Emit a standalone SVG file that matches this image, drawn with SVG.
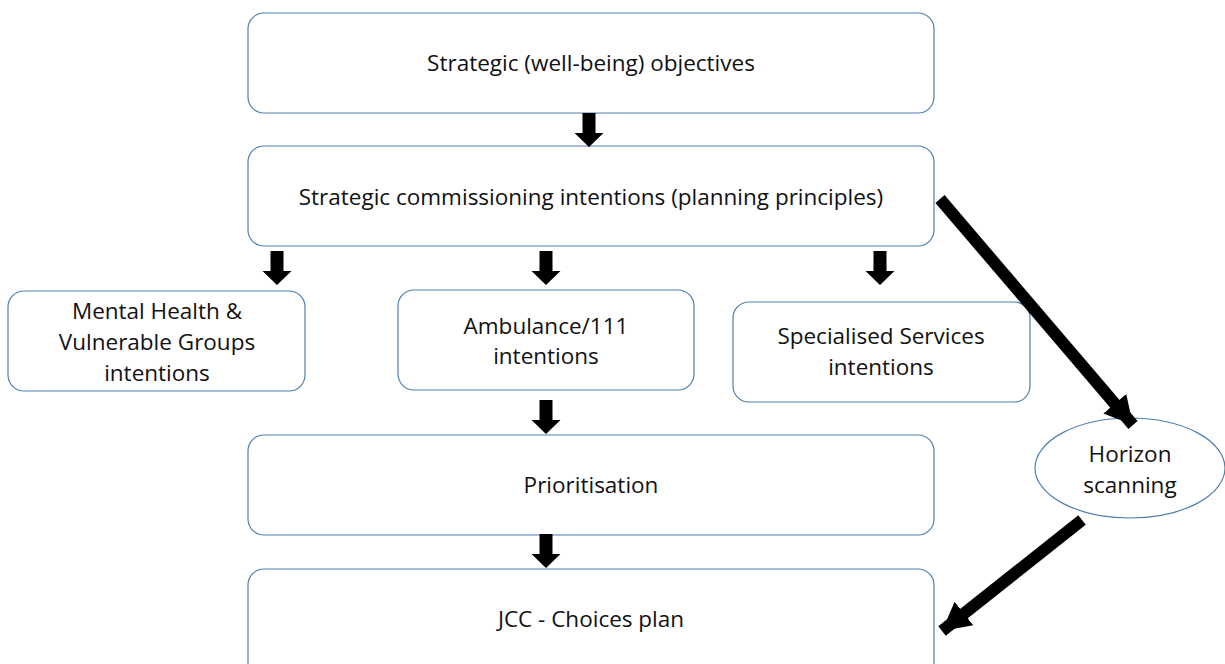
<svg xmlns="http://www.w3.org/2000/svg" xmlns:xlink="http://www.w3.org/1999/xlink" width="1225" height="664" viewBox="0 0 1225 664">
<style>
.box{fill:#fff;stroke:#4f7faf;stroke-width:1.2}
.t{font-family:"Open Sans","Liberation Sans",Arial,sans-serif;font-size:22.5px;fill:#111;text-anchor:middle}
.diag{stroke:#000;stroke-width:12;fill:none}
</style>
<defs>
<path id="down" d="M-6.5,0 H6.5 V20 H14.5 L0,34 L-14.5,20 H-6.5 Z" fill="#000"/>
<marker id="ah" markerUnits="userSpaceOnUse" markerWidth="40" markerHeight="40" viewBox="0 0 40 40" refX="28" refY="20" orient="auto">
<path d="M0,5 L28,20 L0,35 Z" fill="#000"/>
</marker>
</defs>
<rect width="1225" height="664" fill="#fff"/>
<g id="n1"><rect class="box" x="248" y="13" width="686" height="100" rx="16"/><text class="t" x="591" y="71">Strategic (well-being) objectives</text></g>
<g id="n2"><rect class="box" x="248" y="146" width="686" height="100" rx="16"/><text class="t" x="591" y="205">Strategic commissioning intentions (planning principles)</text></g>
<g id="n3"><rect class="box" x="8" y="291" width="297" height="100" rx="16"/><text class="t" x="157" y="319">Mental Health &amp;</text><text class="t" x="157" y="350">Vulnerable Groups</text><text class="t" x="157" y="381">intentions</text></g>
<g id="n4"><rect class="box" x="398" y="290" width="296" height="100" rx="16"/><text class="t" x="546" y="334">Ambulance/111</text><text class="t" x="546" y="364">intentions</text></g>
<g id="n5"><rect class="box" x="733" y="302" width="297" height="100" rx="16"/><text class="t" x="881" y="344">Specialised Services</text><text class="t" x="881" y="375">intentions</text></g>
<g id="n6"><rect class="box" x="248" y="435" width="686" height="100" rx="16"/><text class="t" x="591" y="493">Prioritisation</text></g>
<g id="n7"><rect class="box" x="248" y="569" width="686" height="110" rx="16"/><text class="t" x="591" y="627">JCC - Choices plan</text></g>
<g id="n8"><ellipse class="box" cx="1130" cy="468" rx="95" ry="50"/><text class="t" x="1130" y="462">Horizon</text><text class="t" x="1130" y="493">scanning</text></g>
<g id="connectors">
<use xlink:href="#down" x="589" y="113"/>
<use xlink:href="#down" x="277" y="251"/>
<use xlink:href="#down" x="546" y="251"/>
<use xlink:href="#down" x="880" y="251"/>
<use xlink:href="#down" x="546" y="400"/>
<use xlink:href="#down" x="546" y="534"/>
<line class="diag" x1="940" y1="199" x2="1133" y2="425" marker-end="url(#ah)"/>
<line class="diag" x1="1082" y1="520" x2="942" y2="631" marker-end="url(#ah)"/>
</g>
</svg>
